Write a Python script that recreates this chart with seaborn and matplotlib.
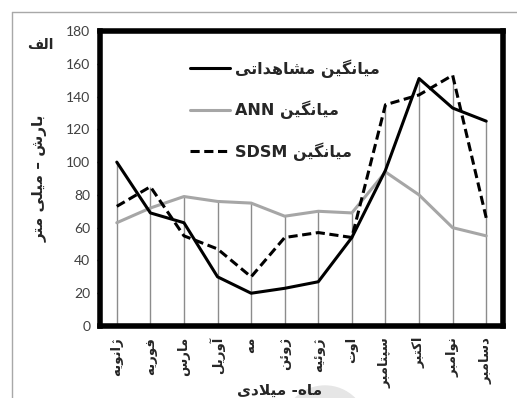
import re
import numpy as np
import pandas as pd
import seaborn as sns
import matplotlib
matplotlib.use("Agg")
import matplotlib.pyplot as plt
from matplotlib.lines import Line2D
from matplotlib.patches import Circle

# ---- data -------------------------------------------------------------
months = ["ژانویه", "فوریه", "مارس", "آوریل", "مه", "ژوئن",
          "ژوئیه", "اوت", "سپتامبر", "اکتبر", "نوامبر", "دسامبر"]
observed = [100, 69, 63, 30, 20, 23, 27, 54, 95, 151, 133, 125]
ann = [63, 72, 79, 76, 75, 67, 70, 69, 94, 80, 60, 55]
sdsm = [73, 85, 55, 47, 30, 54, 57, 54, 135, 141, 153, 66]
series_labels = ["میانگین مشاهداتی", "میانگین ANN", "میانگین SDSM"]
y_ticks = [0, 20, 40, 60, 80, 100, 120, 140, 160, 180]
y_label = "بارش – میلی متر"
x_label = "ماه- میلادی"
panel_tag = "الف"

# ---- minimal Persian shaping (contextual forms + right-to-left order) ----
# letter: (isolated, final, initial, medial); initial None => joins only to the right
FORMS = {
    "ا": ("\uFE8D", "\uFE8E", None, None),
    "آ": ("\uFE81", "\uFE82", None, None),
    "ب": ("\uFE8F", "\uFE90", "\uFE91", "\uFE92"),
    "پ": ("\uFB56", "\uFB57", "\uFB58", "\uFB59"),
    "ت": ("\uFE95", "\uFE96", "\uFE97", "\uFE98"),
    "د": ("\uFEA9", "\uFEAA", None, None),
    "ر": ("\uFEAD", "\uFEAE", None, None),
    "ز": ("\uFEAF", "\uFEB0", None, None),
    "ژ": ("\uFB8A", "\uFB8B", None, None),
    "س": ("\uFEB1", "\uFEB2", "\uFEB3", "\uFEB4"),
    "ش": ("\uFEB5", "\uFEB6", "\uFEB7", "\uFEB8"),
    "ف": ("\uFED1", "\uFED2", "\uFED3", "\uFED4"),
    "ک": ("\uFB8E", "\uFB8F", "\uFB90", "\uFB91"),
    "گ": ("\uFB92", "\uFB93", "\uFB94", "\uFB95"),
    "ل": ("\uFEDD", "\uFEDE", "\uFEDF", "\uFEE0"),
    "م": ("\uFEE1", "\uFEE2", "\uFEE3", "\uFEE4"),
    "ن": ("\uFEE5", "\uFEE6", "\uFEE7", "\uFEE8"),
    "و": ("\uFEED", "\uFEEE", None, None),
    "ه": ("\uFEE9", "\uFEEA", "\uFEEB", "\uFEEC"),
    "ی": ("\uFBFC", "\uFBFD", "\uFBFE", "\uFBFF"),
    "ئ": ("\uFE89", "\uFE8A", "\uFE8B", "\uFE8C"),
}
LAM_ALEF = {"ا": ("\uFEFB", "\uFEFC"), "آ": ("\uFEF5", "\uFEF6")}


def shape(text):
    out = []
    n = len(text)
    i = 0
    while i < n:
        c = text[i]
        if c not in FORMS:
            out.append(c)
            i += 1
            continue
        prev_joins = i > 0 and text[i - 1] in FORMS and FORMS[text[i - 1]][2] is not None
        if c == "ل" and i + 1 < n and text[i + 1] in LAM_ALEF:
            out.append(LAM_ALEF[text[i + 1]][1 if prev_joins else 0])
            i += 2
            continue
        iso, fin, ini, med = FORMS[c]
        next_joins = ini is not None and i + 1 < n and text[i + 1] in FORMS
        if prev_joins and next_joins:
            out.append(med)
        elif prev_joins:
            out.append(fin)
        elif next_joins:
            out.append(ini)
        else:
            out.append(iso)
        i += 1
    return "".join(out)


def fa(text):
    runs = re.findall(r"[A-Za-z0-9]+|[^A-Za-z0-9]+", shape(text))
    return "".join(r if re.match(r"[A-Za-z0-9]", r) else r[::-1] for r in reversed(runs))


# ---- style ------------------------------------------------------------
sns.set_style("white")
plt.rcParams["font.family"] = ["DejaVu Sans"]

W, H = 517, 398
fig = plt.figure(figsize=(W / 100, H / 100), dpi=100)
fig.patch.set_facecolor("white")
ax = fig.add_axes([100 / W, 1 - 326 / H, 403 / W, 295 / H])

month_labels = [fa(m) for m in months]
df = pd.DataFrame({"month": month_labels, "observed": observed,
                   "ann": ann, "sdsm": sdsm})

# drop lines from the highest series value down to zero
top = df[["observed", "ann", "sdsm"]].max(axis=1)
ax.vlines(df["month"], 0, top, color="#8c8c8c", lw=1, zorder=1)

sns.lineplot(data=df, x="month", y="ann", ax=ax, color="#a6a6a6", lw=2.2,
             label=fa(series_labels[1]), sort=False, zorder=2)
sns.lineplot(data=df, x="month", y="sdsm", ax=ax, color="black", lw=2.2,
             label=fa(series_labels[2]), sort=False, zorder=3)
ax.lines[-1].set_dashes((3, 1.5))
sns.lineplot(data=df, x="month", y="observed", ax=ax, color="black", lw=2.2,
             label=fa(series_labels[0]), sort=False, zorder=4)

ax.set_xlim(-0.5, len(months) - 0.5)
ax.set_ylim(0, 180)
ax.set_yticks(y_ticks)

for s in ax.spines.values():
    s.set_visible(True)
    s.set_color("black")
    s.set_linewidth(4)

ax.tick_params(axis="y", length=2, width=1, pad=5, labelsize=10,
               labelcolor="#404040", left=True)
for t in ax.get_yticklabels():
    t.set_family("Lato")
ax.tick_params(axis="x", length=0, pad=8, labelsize=9.5)
for t in ax.get_xticklabels():
    t.set_rotation(90)
    t.set_fontweight("bold")
    t.set_ha("center")
    t.set_va("top")

ax.set_xlabel(fa(x_label), fontsize=11, fontweight="bold", va="center")
ax.xaxis.set_label_coords((280 - 100) / 403, (326 - 390) / 295)
ax.set_ylabel(fa(y_label), fontsize=11, fontweight="bold", va="center")
ax.yaxis.set_label_coords((40 - 100) / 403, 0.5)

# legend: reorder to observed, ANN, SDSM
handles, labels = ax.get_legend_handles_labels()
order = [2, 0, 1]
leg = ax.legend([handles[i] for i in order], [labels[i] for i in order],
                loc="upper left", bbox_to_anchor=(190 / W, 1 - 59 / H),
                bbox_transform=fig.transFigure, frameon=False,
                handlelength=2.5, handletextpad=0.3, labelspacing=1.45,
                borderpad=0, borderaxespad=0,
                prop={"weight": "bold", "size": 11.5})

fig.text(40 / W, 1 - 45 / H, fa(panel_tag), ha="center", va="center",
         fontsize=10, fontweight="bold")

# outer frame and faint round mark below the chart
fig.add_artist(Line2D([12 / W, 1], [1 - 12 / H, 1 - 12 / H],
                      transform=fig.transFigure, color="#a8a8a8", lw=1))
fig.add_artist(Line2D([12 / W, 12 / W], [0, 1 - 12 / H],
                      transform=fig.transFigure, color="#a8a8a8", lw=1))
fig.add_artist(Circle((3.25, -0.30), 0.42, transform=fig.dpi_scale_trans,
                      color="#e6e6e6", zorder=-1))

fig.savefig("out.png", dpi=100)
